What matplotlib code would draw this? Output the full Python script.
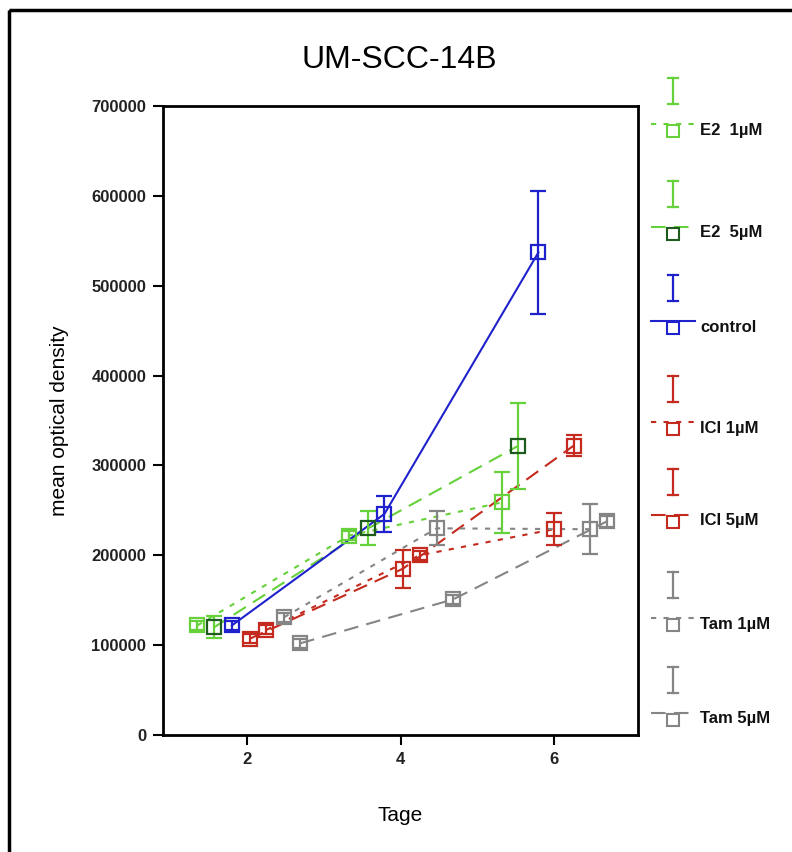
"""UM-SCC-14B growth curves: mean optical density over days per treatment."""

import matplotlib

matplotlib.use("Agg")
import matplotlib.pyplot as plt  # noqa: E402
from matplotlib.lines import Line2D  # noqa: E402
from matplotlib.patches import Rectangle  # noqa: E402

plt.rcParams["font.family"] = ["Liberation Sans", "DejaVu Sans"]

# --- data (x positions are dodged per group)
e2_1_days = [1.35, 3.33, 5.33]
e2_1_od = [122000, 222000, 259000]
e2_1_err = [5000, 5000, 34000]

e2_5_days = [1.57, 3.58, 5.54]
e2_5_od = [120000, 230000, 322000]
e2_5_err = [12000, 19000, 48000]

ctrl_days = [1.80, 3.79, 5.80]
ctrl_od = [122000, 246000, 537000]
ctrl_err = [5000, 20000, 68000]

ici_1_days = [2.25, 4.25, 6.00]
ici_1_od = [117000, 200000, 229000]
ici_1_err = [5000, 5000, 18000]

ici_5_days = [2.03, 4.03, 6.26]
ici_5_od = [107000, 185000, 322000]
ici_5_err = [5000, 21000, 12000]

tam_1_days = [2.48, 4.47, 6.47]
tam_1_od = [131000, 230000, 229000]
tam_1_err = [5000, 19000, 28000]

tam_5_days = [2.69, 4.69, 6.70]
tam_5_od = [102000, 151000, 238000]
tam_5_err = [5000, 5000, 6000]

LIGHT_GREEN = "#66d13a"
DARK_GREEN = "#1f5a1f"
BLUE = "#1f22cc"
RED = "#c42a1e"
GRAY = "#858585"

SHORT = (0, (2.5, 3.5))
LONG = (0, (7, 4))

# label, days, od, err, line colour, marker colour, err colour, linestyle
series = [
    ("E2  1µM", e2_1_days, e2_1_od, e2_1_err, LIGHT_GREEN, LIGHT_GREEN, LIGHT_GREEN, SHORT),
    ("E2  5µM", e2_5_days, e2_5_od, e2_5_err, LIGHT_GREEN, DARK_GREEN, LIGHT_GREEN, LONG),
    ("control", ctrl_days, ctrl_od, ctrl_err, BLUE, BLUE, BLUE, "-"),
    ("ICI 1µM", ici_1_days, ici_1_od, ici_1_err, RED, RED, RED, SHORT),
    ("ICI 5µM", ici_5_days, ici_5_od, ici_5_err, RED, RED, RED, LONG),
    ("Tam 1µM", tam_1_days, tam_1_od, tam_1_err, GRAY, GRAY, GRAY, SHORT),
    ("Tam 5µM", tam_5_days, tam_5_od, tam_5_err, GRAY, GRAY, GRAY, LONG),
]

W, H = 792, 852
fig = plt.figure(figsize=(W / 100, H / 100), dpi=100)
ax = fig.add_axes([163 / W, 1 - 735 / H, (638 - 163) / W, (735 - 106) / H])

for label, days, od, err, lc, mc, ec, ls in series:
    ax.plot(days, od, color=lc, linestyle=ls, linewidth=1.5, zorder=2)
    ax.errorbar(days, od, yerr=err, fmt="none", ecolor=ec, elinewidth=1.6,
                capsize=6, capthick=1.6, zorder=3)
    ax.plot(days, od, linestyle="none", marker="s", markersize=10,
            markerfacecolor="none", markeredgecolor=mc, markeredgewidth=1.6, zorder=4)

ax.set_xlim(0.9, 7.1)
ax.set_ylim(0, 700000)
ax.set_xticks([2, 4, 6])
ax.set_yticks(range(0, 700001, 100000))
ax.tick_params(axis="both", direction="out", length=7, width=1.5, labelsize=12, pad=5)
for t in ax.get_xticklabels() + ax.get_yticklabels():
    t.set_fontweight("bold")
    t.set_color("#222222")
for spine in ax.spines.values():
    spine.set_linewidth(2)

ax.set_xlabel("Tage", fontsize=15, labelpad=28)
ax.set_ylabel("mean optical density", fontsize=15, labelpad=16)
fig.text(399 / W, 1 - 60 / H, "UM-SCC-14B", ha="center", va="center", fontsize=23)

# --- legend on the right, drawn in pixel space on an overlay
ov = fig.add_axes([0, 0, 1, 1], facecolor="none")
ov.set_xlim(0, W)
ov.set_ylim(H, 0)
ov.axis("off")

ov.add_patch(Rectangle((9, 10), W + 20, H + 20, fill=False, edgecolor="black",
                       linewidth=2.5))

label_y = [130, 233, 327, 428, 521, 624, 719]
for (label, days, od, err, lc, mc, ec, ls), ly in zip(series, label_y):
    ov.add_line(Line2D([673, 673], [ly - 52, ly - 26], color=ec, linewidth=1.6))
    ov.add_line(Line2D([668, 678], [ly - 52, ly - 52], color=ec, linewidth=1.6))
    ov.add_line(Line2D([668, 678], [ly - 26, ly - 26], color=ec, linewidth=1.6))
    ov.add_line(Line2D([651, 695], [ly - 6, ly - 6], color=lc, linestyle=ls, linewidth=1.5))
    ov.add_line(Line2D([673], [ly + 1], marker="s", markersize=8, markerfacecolor="white",
                       markeredgecolor=mc, markeredgewidth=1.5, linestyle="none"))
    ov.text(700, ly, label, fontsize=12, fontweight="bold", va="center", ha="left",
            color="#111111")

fig.savefig("out.png", dpi=100, facecolor="white")
